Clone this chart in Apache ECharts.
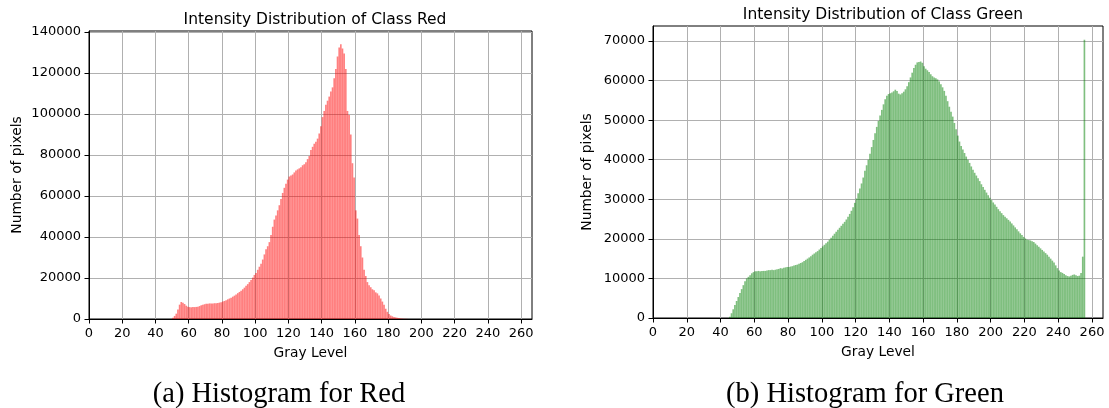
<!DOCTYPE html>
<html>
<head>
<meta charset="utf-8">
<script src="https://cdn.jsdelivr.net/npm/echarts@6/dist/echarts.min.js"></script>
<style>
  html, body { margin: 0; padding: 0; background: #fff; }
  #chart { width: 1109px; height: 408px; }
</style>
</head>
<body>
<div id="chart"></div>
<script>
// Pixel counts per gray level; each list starts at its *Start level.
const redStart = 50;
const redCounts = [
  600, 1500, 2600, 4600, 7000, 8300, 7900, 7300, 6500, 6000,
  5800, 5700, 5800, 5800, 5900, 6000, 6300, 6700, 7000, 7200,
  7400, 7500, 7600, 7600, 7600, 7700, 7700, 7800, 8000, 8200,
  8500, 8800, 9200, 9600, 10000, 10400, 10900, 11400, 12000, 12600,
  13200, 13800, 14500, 15300, 16200, 17000, 18000, 19000, 20200, 21500,
  22500, 24000, 25500, 27000, 29000, 31500, 34000, 35500, 37500, 41000,
  45000, 48500, 50500, 53000, 55500, 58500, 61500, 64000, 66000, 68000,
  69500, 70000, 70500, 71500, 72500, 73000, 73500, 74000, 75000, 75500,
  76500, 78000, 79500, 82500, 84000, 85500, 86500, 88000, 90500, 94000,
  98500, 101500, 104500, 106500, 108500, 111000, 113000, 117500, 122000, 128000,
  132500, 134000, 132000, 129500, 122000, 101500, 99500, 90000, 76000, 69000,
  53000, 49000, 41000, 35500, 30000, 24000, 21000, 18000, 16500, 15500,
  14500, 14000, 13000, 12500, 11500, 10000, 8500, 7000, 5000, 3500,
  2500, 1700, 1300, 1000, 800, 600, 450, 300, 200, 150,
  100, 50
];

const greenStart = 45;
const greenCounts = [
  300, 1200, 2200, 3300, 4300, 5300, 6300, 7300, 8300, 9300,
  10000, 10400, 10800, 11300, 11600, 11800, 11800, 11900, 11800, 11900,
  11900, 11900, 12000, 12100, 12100, 12200, 12100, 12200, 12300, 12400,
  12600, 12500, 12700, 12800, 12900, 12900, 13000, 13100, 13300, 13400,
  13500, 13700, 13900, 14100, 14400, 14700, 15000, 15300, 15600, 16000,
  16300, 16600, 16900, 17300, 17700, 18100, 18500, 18900, 19300, 19800,
  20300, 20800, 21300, 21800, 22300, 22800, 23300, 23800, 24300, 24900,
  25600, 26300, 27100, 28000, 29100, 30200, 31500, 32700, 34000, 35500,
  37200, 38600, 40000, 41500, 43200, 45000, 46700, 48300, 49800, 51200,
  52600, 54000, 55300, 56200, 56600, 56800, 57000, 57300, 57700, 57400,
  56700, 56500, 56800, 57200, 57800, 58600, 59600, 60800, 62000, 63200,
  64000, 64600, 64700, 64800, 64500, 63600, 63000, 62600, 62200, 61600,
  61100, 60800, 60600, 60300, 59800, 59100, 58300, 57400, 56200, 54800,
  53400, 52100, 50900, 49300, 47700, 46100, 44600, 43500, 42600, 41700,
  40800, 40000, 39200, 38300, 37500, 36700, 36000, 35300, 34600, 33800,
  33100, 32400, 31700, 31000, 30400, 29800, 29200, 28700, 28100, 27500,
  27000, 26500, 26000, 25600, 25200, 24800, 24400, 23900, 23400, 22900,
  22400, 21900, 21400, 21000, 20500, 20100, 19800, 19700, 19600, 19400,
  19200, 18800, 18400, 18000, 17600, 17200, 16800, 16400, 16000, 15500,
  15000, 14500, 14000, 13300, 12600, 12000, 11600, 11400, 11100, 10800,
  10600, 10500, 10700, 10900, 11000, 10800, 10600, 10700, 11400, 15500,
  70300
];

// Tick positions
const xTicks = [0, 20, 40, 60, 80, 100, 120, 140, 160, 180, 200, 220, 240, 260];
const redYTicks = [0, 20000, 40000, 60000, 80000, 100000, 120000, 140000];
const greenYTicks = [0, 10000, 20000, 30000, 40000, 50000, 60000, 70000];

// Each bar covers one gray level [g, g + 1)
function toBars(start, counts) {
  return counts.map((c, i) => [start + i + 0.5, c]);
}

const sansFont = 'DejaVu Sans';
const tickFont = 13;
const nameFont = 13.8;
const textColor = '#000';

function xAxisFor(gridIndex) {
  return {
    type: 'value', gridIndex: gridIndex, min: 0, max: 266.5,
    name: 'Gray Level', nameLocation: 'middle', nameGap: 27,
    nameTextStyle: { fontFamily: sansFont, fontSize: nameFont, color: textColor },
    axisLine: { show: true, lineStyle: { color: '#000', width: 1 } },
    axisTick: { show: true, length: 4.5, lineStyle: { color: '#000', width: 1 }, customValues: xTicks },
    axisLabel: { fontFamily: sansFont, fontSize: tickFont, color: textColor, margin: 8, customValues: xTicks },
    splitLine: { show: true, lineStyle: { color: '#b0b0b0', width: 1 } }
  };
}

function yAxisFor(gridIndex, max, ticks, gap) {
  return {
    type: 'value', gridIndex: gridIndex, min: 0, max: max,
    name: 'Number of pixels', nameLocation: 'middle', nameGap: gap,
    nameTextStyle: { fontFamily: sansFont, fontSize: nameFont, color: textColor },
    axisLine: { show: true, lineStyle: { color: '#000', width: 1 } },
    axisTick: { show: true, length: 4.5, lineStyle: { color: '#000', width: 1 }, customValues: ticks },
    axisLabel: { fontFamily: sansFont, fontSize: tickFont, color: textColor, margin: 8,
      customValues: ticks, formatter: v => String(v) },
    splitLine: { show: true, lineStyle: { color: '#b0b0b0', width: 1 } }
  };
}

const chart = echarts.init(document.getElementById('chart'), null, { renderer: 'canvas' });
chart.setOption({
  animation: false,
  backgroundColor: '#fff',
  title: [
    { text: 'Intensity Distribution of Class Red', left: 310, top: 7, textAlign: 'center',
      textStyle: { fontFamily: sansFont, fontSize: 15.5, fontWeight: 'normal', color: textColor } },
    { text: 'Intensity Distribution of Class Green', left: 878, top: 2, textAlign: 'center',
      textStyle: { fontFamily: sansFont, fontSize: 15.5, fontWeight: 'normal', color: textColor } },
    { text: '(a) Histogram for Red', left: 274, top: 375, textAlign: 'center',
      textStyle: { fontFamily: 'Liberation Serif', fontSize: 28.5, fontWeight: 'normal', color: textColor } },
    { text: '(b) Histogram for Green', left: 860, top: 375, textAlign: 'center',
      textStyle: { fontFamily: 'Liberation Serif', fontSize: 28.5, fontWeight: 'normal', color: textColor } }
  ],
  grid: [
    { left: 89, top: 31, width: 443, height: 288, show: true, borderColor: '#000', borderWidth: 1 },
    { left: 653, top: 26, width: 450, height: 292, show: true, borderColor: '#000', borderWidth: 1 }
  ],
  xAxis: [xAxisFor(0), xAxisFor(1)],
  yAxis: [yAxisFor(0, 140500, redYTicks, 65), yAxisFor(1, 73800, greenYTicks, 59)],
  series: [
    { type: 'bar', xAxisIndex: 0, yAxisIndex: 0, barWidth: '97%',
      itemStyle: { color: 'rgba(255,0,0,0.5)' }, data: toBars(redStart, redCounts) },
    { type: 'bar', xAxisIndex: 1, yAxisIndex: 1, barWidth: '97%',
      itemStyle: { color: 'rgba(0,128,0,0.5)' }, data: toBars(greenStart, greenCounts) }
  ]
});
</script>
</body>
</html>
